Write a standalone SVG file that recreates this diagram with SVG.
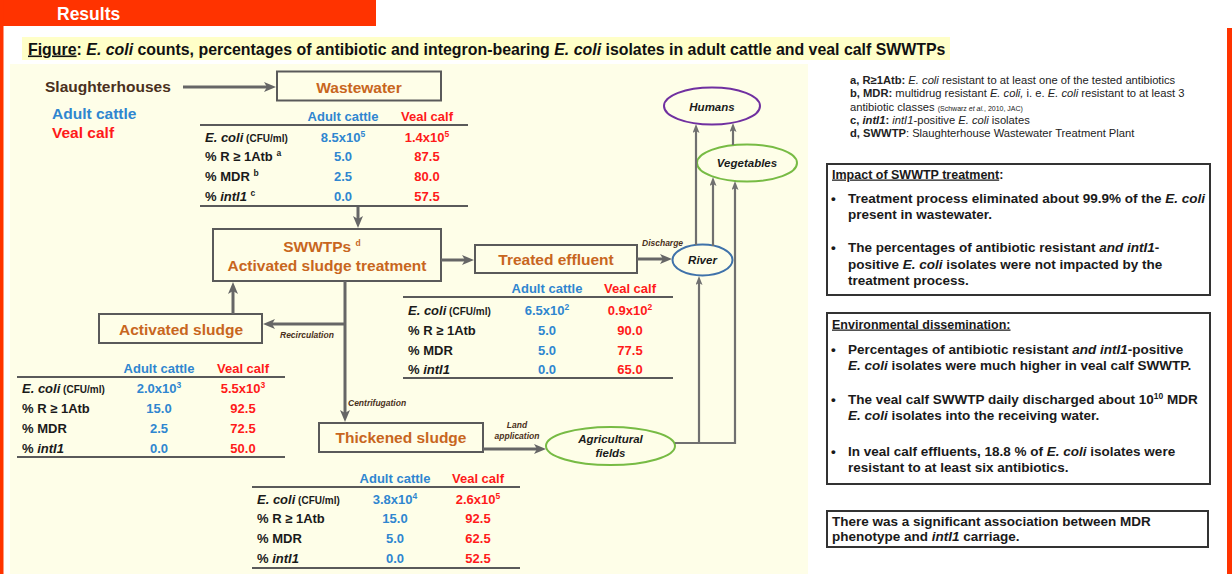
<svg xmlns="http://www.w3.org/2000/svg" width="1232" height="574" viewBox="0 0 1232 574">
<defs>
<style>
text{font-family:"Liberation Sans",Arial,sans-serif;font-weight:bold;}
.box{fill:none;stroke:#5a5a5a;stroke-width:2;}
.bt{fill:#c8661e;font-size:15.5px;text-anchor:middle;}
.hb{fill:#2f86d0;font-size:13px;text-anchor:middle;}
.hr{fill:#ff1a1a;font-size:13px;text-anchor:middle;}
.lab{fill:#1a1a1a;font-size:13px;}
.vb{fill:#2f86d0;font-size:13px;text-anchor:middle;}
.vr{fill:#ff1a1a;font-size:13px;text-anchor:middle;}
.tl{stroke:#5a5a5a;stroke-width:2;}
.it{font-style:italic;}
.sm{font-size:10px;}
.sup{font-size:8.5px;}
.conn{fill:none;stroke:#666;stroke-width:3;}
.thin{fill:none;stroke:#707070;stroke-width:2.2;}
.ell{fill:#fefee8;stroke-width:2;}
.et{fill:#1a1a1a;font-size:11.5px;font-style:italic;text-anchor:middle;}
.cl{fill:#4a3020;font-size:8.5px;font-style:italic;}
.note{fill:#222;font-size:11.2px;font-weight:normal;}
.nb{font-weight:bold;}
.rbox{fill:#fff;stroke:#333;stroke-width:2;}
.bx{fill:#1a1a1a;font-size:13.5px;}
.bxt{fill:#1a1a1a;font-size:12.5px;}
</style>
<marker id="ah" markerUnits="userSpaceOnUse" markerWidth="12" markerHeight="10" refX="3" refY="5" orient="auto">
<path d="M0,0 L12,5 L0,10 L3,5 z" fill="#666"/>
</marker>
<marker id="at" markerUnits="userSpaceOnUse" markerWidth="9" markerHeight="7" refX="2" refY="3.5" orient="auto">
<path d="M0,0 L9,3.5 L0,7 L2,3.5 z" fill="#707070"/>
</marker>
</defs>

<rect x="0" y="0" width="1232" height="574" fill="#ffffff"/>
<g id="header">
<rect x="0" y="0" width="376" height="26" fill="#ff3300"/>
<rect x="0" y="0" width="3.5" height="574" fill="#ff3300"/>
<rect x="1227" y="28" width="5" height="546" fill="#ff3300"/>
<text x="57" y="19.5" fill="#ffffff" font-size="17.5">Results</text>
</g>
<rect x="10" y="64" width="798" height="510" fill="#fefee8"/>
<g id="title">
<rect x="22" y="37" width="928" height="23" fill="#ffffc8"/>
<text x="28" y="54.5" font-size="15.9" fill="#111"><tspan text-decoration="underline">Figure</tspan>: <tspan class="it">E. coli</tspan> counts, percentages of antibiotic and integron-bearing <tspan class="it">E. coli</tspan> isolates in adult cattle and veal calf SWWTPs</text>
</g>

<g id="legend">
<text x="52" y="119" fill="#2f86d0" font-size="15.5">Adult cattle</text>
<text x="52" y="138" fill="#ff1a1a" font-size="15.5">Veal calf</text>
</g>

<g id="slaughterhouses">
<text x="45" y="91.5" fill="#4a3020" font-size="15.5">Slaughterhouses</text>
</g>

<g id="wastewater">
<rect class="box" x="277" y="71.5" width="164" height="29"/>
<text class="bt" x="359" y="92.5">Wastewater</text>
</g>

<g id="wastewater-table">
<text class="hb" x="343" y="121">Adult cattle</text>
<text class="hr" x="427" y="121">Veal calf</text>
<line class="tl" x1="200" y1="125" x2="468" y2="125"/>
<text class="lab" x="205" y="141.5"><tspan class="it">E. coli</tspan><tspan class="sm"> (CFU/ml)</tspan></text>
<text class="lab" x="205" y="160.5">% R ≥ 1Atb <tspan class="sup" dy="-5">a</tspan></text>
<text class="lab" x="205" y="180.5">% MDR <tspan class="sup" dy="-5">b</tspan></text>
<text class="lab" x="205" y="200.5">% <tspan class="it">intI1</tspan> <tspan class="sup" dy="-5">c</tspan></text>
<text class="vb" x="343" y="141.5">8.5x10<tspan class="sup" dy="-5">5</tspan></text>
<text class="vr" x="427" y="141.5">1.4x10<tspan class="sup" dy="-5">5</tspan></text>
<text class="vb" x="343" y="160.5">5.0</text>
<text class="vr" x="427" y="160.5">87.5</text>
<text class="vb" x="343" y="180.5">2.5</text>
<text class="vr" x="427" y="180.5">80.0</text>
<text class="vb" x="343" y="200.5">0.0</text>
<text class="vr" x="427" y="200.5">57.5</text>
<line class="tl" x1="200" y1="206" x2="468" y2="206"/>
</g>

<g id="swwtp">
<rect class="box" x="213" y="229" width="228" height="52"/>
<text class="bt" x="322" y="252">SWWTPs <tspan class="sup" font-size="10" dy="-6">d</tspan></text>
<text class="bt" x="327" y="270.5">Activated sludge treatment</text>
</g>

<g id="treated-effluent">
<rect class="box" x="475" y="245" width="162" height="28"/>
<text class="bt" x="556" y="265">Treated effluent</text>
</g>

<g id="treated-effluent-table">
<text class="hb" x="547" y="292.5">Adult cattle</text>
<text class="hr" x="630" y="292.5">Veal calf</text>
<line class="tl" x1="403" y1="297" x2="673" y2="297"/>
<text class="lab" x="408" y="314.5"><tspan class="it">E. coli</tspan><tspan class="sm"> (CFU/ml)</tspan></text>
<text class="lab" x="408" y="334.5">% R ≥ 1Atb</text>
<text class="lab" x="408" y="354.5">% MDR</text>
<text class="lab" x="408" y="373.5">% <tspan class="it">intI1</tspan></text>
<text class="vb" x="547" y="314.5">6.5x10<tspan class="sup" dy="-5">2</tspan></text>
<text class="vr" x="630" y="314.5">0.9x10<tspan class="sup" dy="-5">2</tspan></text>
<text class="vb" x="547" y="334.5">5.0</text>
<text class="vr" x="630" y="334.5">90.0</text>
<text class="vb" x="547" y="354.5">5.0</text>
<text class="vr" x="630" y="354.5">77.5</text>
<text class="vb" x="547" y="373.5">0.0</text>
<text class="vr" x="630" y="373.5">65.0</text>
<line class="tl" x1="403" y1="378" x2="673" y2="378"/>
</g>

<g id="activated-sludge">
<rect class="box" x="99" y="314" width="163" height="29"/>
<text class="bt" x="181" y="334.5">Activated sludge</text>
</g>

<g id="activated-sludge-table">
<text class="hb" x="159" y="372.5">Adult cattle</text>
<text class="hr" x="243" y="372.5">Veal calf</text>
<line class="tl" x1="17" y1="377" x2="285" y2="377"/>
<text class="lab" x="22" y="392.5"><tspan class="it">E. coli</tspan><tspan class="sm"> (CFU/ml)</tspan></text>
<text class="lab" x="22" y="412.5">% R ≥ 1Atb</text>
<text class="lab" x="22" y="432.5">% MDR</text>
<text class="lab" x="22" y="452.5">% <tspan class="it">intI1</tspan></text>
<text class="vb" x="159" y="392.5">2.0x10<tspan class="sup" dy="-5">3</tspan></text>
<text class="vr" x="243" y="392.5">5.5x10<tspan class="sup" dy="-5">3</tspan></text>
<text class="vb" x="159" y="412.5">15.0</text>
<text class="vr" x="243" y="412.5">92.5</text>
<text class="vb" x="159" y="432.5">2.5</text>
<text class="vr" x="243" y="432.5">72.5</text>
<text class="vb" x="159" y="452.5">0.0</text>
<text class="vr" x="243" y="452.5">50.0</text>
<line class="tl" x1="17" y1="457" x2="285" y2="457"/>
</g>

<g id="thickened-sludge">
<rect class="box" x="319" y="423" width="164" height="29"/>
<text class="bt" x="401" y="443">Thickened sludge</text>
</g>

<g id="thickened-sludge-table">
<text class="hb" x="395" y="482.5">Adult cattle</text>
<text class="hr" x="478" y="482.5">Veal calf</text>
<line class="tl" x1="252" y1="487" x2="520" y2="487"/>
<text class="lab" x="257" y="503.5"><tspan class="it">E. coli</tspan><tspan class="sm"> (CFU/ml)</tspan></text>
<text class="lab" x="257" y="523">% R ≥ 1Atb</text>
<text class="lab" x="257" y="543">% MDR</text>
<text class="lab" x="257" y="563">% <tspan class="it">intI1</tspan></text>
<text class="vb" x="395" y="503.5">3.8x10<tspan class="sup" dy="-5">4</tspan></text>
<text class="vr" x="478" y="503.5">2.6x10<tspan class="sup" dy="-5">5</tspan></text>
<text class="vb" x="395" y="523">15.0</text>
<text class="vr" x="478" y="523">92.5</text>
<text class="vb" x="395" y="543">5.0</text>
<text class="vr" x="478" y="543">62.5</text>
<text class="vb" x="395" y="563">0.0</text>
<text class="vr" x="478" y="563">52.5</text>
<line class="tl" x1="252" y1="568" x2="520" y2="568"/>
</g>

<g id="humans">
<ellipse class="ell" cx="712" cy="106" rx="48" ry="18.5" stroke="#7030a0"/>
<text class="et" x="712" y="110.5" font-size="12">Humans</text>
</g>
<g id="vegetables">
<ellipse class="ell" cx="747" cy="163" rx="50" ry="18.5" stroke="#77bb44"/>
<text class="et" x="747" y="167">Vegetables</text>
</g>
<g id="river">
<ellipse class="ell" cx="702.5" cy="260" rx="30" ry="15.5" stroke="#3f72aa"/>
<text class="et" x="702.5" y="264">River</text>
</g>
<g id="agricultural-fields">
<ellipse class="ell" cx="610.5" cy="446" rx="64.5" ry="19" stroke="#77bb44"/>
<text class="et" x="610.5" y="443">Agricultural</text>
<text class="et" x="610.5" y="456.5">fields</text>
</g>

<g id="connectors">
<line class="conn" x1="183" y1="87" x2="267" y2="87" marker-end="url(#ah)"/>
<line class="conn" x1="358" y1="207" x2="358" y2="219" marker-end="url(#ah)"/>
<line class="conn" x1="441" y1="260" x2="465" y2="260" marker-end="url(#ah)"/>
<line class="conn" x1="637" y1="259" x2="663" y2="259" marker-end="url(#ah)"/>
<line class="conn" x1="345" y1="281" x2="345" y2="413" marker-end="url(#ah)"/>
<line class="conn" x1="345" y1="324" x2="272" y2="324" marker-end="url(#ah)"/>
<line class="conn" x1="233" y1="314" x2="233" y2="291" marker-end="url(#ah)"/>
<line class="conn" x1="483" y1="449" x2="537" y2="449" marker-end="url(#ah)"/>
<line class="thin" x1="696" y1="245" x2="696" y2="131" marker-end="url(#at)"/>
<line class="thin" x1="713" y1="246" x2="713" y2="184" marker-end="url(#at)"/>
<line class="thin" x1="733" y1="145" x2="733" y2="130" marker-end="url(#at)"/>
<path class="thin" d="M675,443 H735 V188" marker-end="url(#at)"/>
<line class="thin" x1="699" y1="443" x2="699" y2="283" marker-end="url(#at)"/>
<text class="cl" x="642" y="246">Discharge</text>
<text class="cl" x="280" y="338">Recirculation</text>
<text class="cl" x="348" y="406">Centrifugation</text>
<text class="cl" x="517" y="428" text-anchor="middle">Land</text>
<text class="cl" x="517" y="438.5" text-anchor="middle">application</text>
</g>

<g id="notes">
<text class="note" x="850" y="83.7"><tspan class="nb">a, R≥1Atb:</tspan> <tspan class="it">E. coli</tspan> resistant to at least one of the tested antibiotics</text>
<text class="note" x="850" y="97.3"><tspan class="nb">b, MDR:</tspan> multidrug resistant <tspan class="it">E. coli,</tspan> i. e. <tspan class="it">E. coli</tspan> resistant to at least 3</text>
<text class="note" x="850" y="110.5">antibiotic classes <tspan font-size="7">(Schwarz <tspan class="it">et al.</tspan>, 2010, JAC)</tspan></text>
<text class="note" x="850" y="123.7"><tspan class="nb">c, </tspan><tspan class="nb it">intI1</tspan><tspan class="nb">:</tspan> <tspan class="it">intI1</tspan>-positive <tspan class="it">E. coli</tspan> isolates</text>
<text class="note" x="850" y="137"><tspan class="nb">d, SWWTP</tspan>: Slaughterhouse Wastewater Treatment Plant</text>
</g>

<g id="box-impact">
<rect class="rbox" x="827" y="164" width="383" height="131"/>
<text class="bxt" x="832" y="178.5"><tspan text-decoration="underline">Impact of SWWTP treatment</tspan>:</text>
<text class="bx" x="831" y="203">•</text>
<text class="bx" x="848" y="203">Treatment process eliminated about 99.9% of the <tspan class="it">E. coli</tspan></text>
<text class="bx" x="848" y="219">present in wastewater.</text>
<text class="bx" x="831" y="252">•</text>
<text class="bx" x="848" y="252">The percentages of antibiotic resistant <tspan class="it">and intI1</tspan>-</text>
<text class="bx" x="848" y="268.5">positive <tspan class="it">E. coli</tspan> isolates were not impacted by the</text>
<text class="bx" x="848" y="285">treatment process.</text>
</g>

<g id="box-dissemination">
<rect class="rbox" x="827" y="313" width="383" height="171"/>
<text class="bxt" x="832" y="328.5" text-decoration="underline">Environmental dissemination:</text>
<text class="bx" x="831" y="353.5">•</text>
<text class="bx" x="848" y="353.5">Percentages of antibiotic resistant <tspan class="it">and intI1</tspan>-positive</text>
<text class="bx" x="848" y="369.5"><tspan class="it">E. coli</tspan> isolates were much higher in veal calf SWWTP.</text>
<text class="bx" x="831" y="403.5">•</text>
<text class="bx" x="848" y="403.5">The veal calf SWWTP daily discharged about 10<tspan font-size="8.5" dy="-5">10</tspan><tspan dy="5"> MDR</tspan></text>
<text class="bx" x="848" y="419.5"><tspan class="it">E. coli</tspan> isolates into the receiving water.</text>
<text class="bx" x="831" y="455.5">•</text>
<text class="bx" x="848" y="455.5">In veal calf effluents, 18.8 % of <tspan class="it">E. coli</tspan> isolates were</text>
<text class="bx" x="848" y="471.5">resistant to at least six antibiotics.</text>
</g>

<g id="box-association">
<rect class="rbox" x="827" y="511" width="381" height="36"/>
<text class="bx" x="832" y="526">There was a significant association between MDR</text>
<text class="bx" x="832" y="541">phenotype and <tspan class="it">intI1</tspan> carriage.</text>
</g>
</svg>
